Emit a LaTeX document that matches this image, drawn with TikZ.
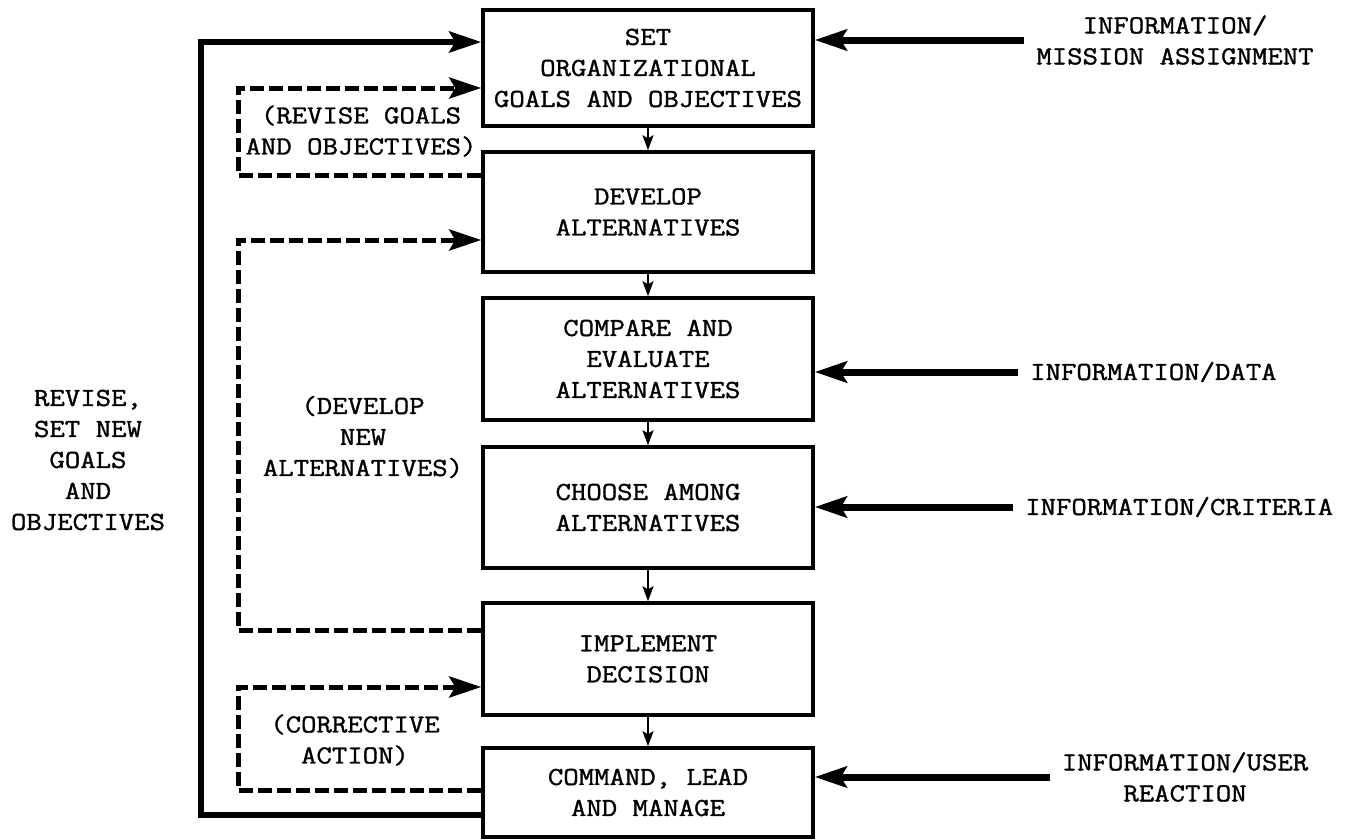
\documentclass[tikz,border=0pt]{standalone}
\usepackage{fontspec}
\usetikzlibrary{arrows.meta}
\newfontfamily\typewriter{Latin Modern Mono}[FakeStretch=1.15,RawFeature={embolden=1.3}]
\newcommand\boxfont{\typewriter\fontsize{26}{31}\selectfont}
\begin{document}
\begin{tikzpicture}[x=1pt,y=-1pt,
  box/.style={draw,line width=3.5pt,minimum width=330pt,inner sep=0pt,align=center,font=\boxfont},
  lbl/.style={align=center,inner sep=0pt,font=\boxfont},
  flow/.style={line width=2pt,-{Stealth[length=15pt,width=11pt,inset=3pt]}},
  bighead/.style={-{Stealth[length=32pt,width=21pt,inset=6pt]}},
  feed/.style={bighead,line width=6pt},
  dfeed/.style={bighead,line width=5pt,dash pattern=on 14pt off 5pt},
  inarrow/.style={bighead,line width=7pt}
]
\fill[white] (0,0) rectangle (1354,839);
\useasboundingbox (0,0) rectangle (1354,839);

% process steps
\node[box,minimum height=116pt] (b1) at (648,68)    {SET\\ORGANIZATIONAL\\GOALS AND OBJECTIVES};
\node[box,minimum height=120pt] (b2) at (648,212)   {DEVELOP\\ALTERNATIVES};
\node[box,minimum height=122pt] (b3) at (648,359)   {COMPARE AND\\EVALUATE\\ALTERNATIVES};
\node[box,minimum height=121pt] (b4) at (648,507.5) {CHOOSE AMONG\\ALTERNATIVES};
\node[box,minimum height=112pt] (b5) at (648,659)   {IMPLEMENT\\DECISION};
\node[box,minimum height=89pt]  (b6) at (648,792.5) {COMMAND, LEAD\\AND MANAGE};

% forward flow
\draw[flow] (b1.south) -- (b2.north);
\draw[flow] (b2.south) -- (b3.north);
\draw[flow] (b3.south) -- (b4.north);
\draw[flow] (b4.south) -- (b5.north);
\draw[flow] (b5.south) -- (b6.north);

% outside inputs
\node[lbl] (i1) at (1175,40) {INFORMATION/\\MISSION ASSIGNMENT};
\node[lbl,anchor=west] (i2) at (1030,372) {INFORMATION/DATA};
\node[lbl,anchor=west] (i3) at (1025,507) {INFORMATION/CRITERIA};
\node[lbl] (i4) at (1185,777) {INFORMATION/USER\\REACTION};
\draw[inarrow] ([xshift=-12pt]i1.west) -- (b1.east |- i1.west);
\draw[inarrow] ([xshift=-12pt]i2.west) -- (b3.east |- i2.west);
\draw[inarrow] ([xshift=-12pt]i3.west) -- (b4.east |- i3.west);
\draw[inarrow] ([xshift=-12pt]i4.west) -- (b6.east |- i4.west);

% feedback loops
\coordinate (xs) at (201,0);
\coordinate (xd) at (238,0);
\draw[feed]  (b6.west |- 0,815) -| (xs |- 0,42)  -- (b1.west |- 0,42);
\draw[dfeed] (b2.west |- 0,175) -| (xd |- 0,88)  -- (b1.west |- 0,88);
\draw[dfeed] (b5.west |- 0,630) -| (xd |- 0,240) -- (b2.west |- 0,240);
\draw[dfeed] (b6.west |- 0,790) -| (xd |- 0,687) -- (b5.west |- 0,687);

% loop labels
\node[lbl] (t1) at (361,131) {(REVISE GOALS\\AND OBJECTIVES)};
\node[lbl] (t2) at (363,437) {(DEVELOP\\NEW\\ALTERNATIVES)};
\node[lbl] (t3) at (355,740) {(CORRECTIVE\\ACTION)};
\node[lbl] (t4) at (88,460)  {REVISE,\\SET NEW\\GOALS\\AND\\OBJECTIVES};
\end{tikzpicture}
\end{document}
